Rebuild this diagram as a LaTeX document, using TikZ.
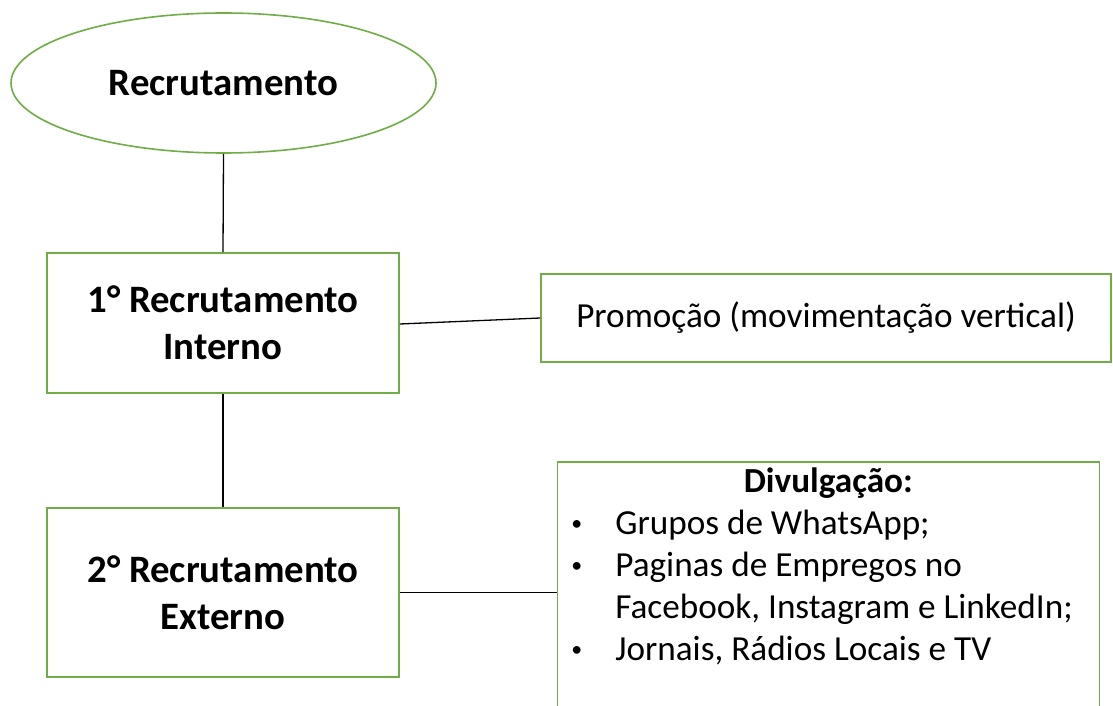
\documentclass[tikz,border=0pt]{standalone}
\usepackage{fontspec}
\setmainfont{Carlito}
\usetikzlibrary{shapes.geometric}
\definecolor{gr}{RGB}{112,173,71}
\newcommand{\bul}{\makebox[42pt][l]{\hspace*{-2pt}\raisebox{0.28ex}{\scalebox{0.62}{•}}}}
\begin{document}
\begin{tikzpicture}[x=1pt,y=-1pt,
  gshape/.style={draw=gr, line width=1.6pt, fill=white, inner sep=0pt},
  conn/.style={draw=black, line width=1.3pt},
  big/.style={font=\fontsize{38.8}{47}\selectfont\bfseries, align=center},
  norm/.style={font=\fontsize{35.2}{42}\selectfont}]
\useasboundingbox (0,0) rectangle (1113,706);
\node[gshape, ellipse, minimum width=425pt, minimum height=140pt, big] (rec) at (223.5,83) {Recrutamento};
\node[gshape, rectangle, minimum width=352pt, minimum height=140pt, big] (int) at (223,323) {1° Recrutamento\\Interno};
\node[gshape, rectangle, minimum width=352pt, minimum height=169pt, big] (ext) at (223,592.5) {2° Recrutamento\\Externo};
\node[gshape, rectangle, minimum width=570pt, minimum height=88pt, norm] (pro) at (826,318) {Promoção (movimentação vertical)};
\node[gshape, rectangle, anchor=north west, norm] (div) at (556.5,461) {%
\begin{minipage}[c][260pt][t]{542pt}\parindent=0pt
\fontsize{35.2}{42}\selectfont
\makebox[542pt][c]{\rule{0pt}{31pt}\bfseries Divulgação:}\\
\hspace*{16pt}\bul Grupos de WhatsApp;\\
\hspace*{16pt}\bul Paginas de Empregos no\\
\hspace*{58pt}Facebook, Instagram e LinkedIn;\\
\hspace*{16pt}\bul Jornais, Rádios Locais e TV
\end{minipage}};
\draw[conn] (rec.south) -- (int.north);
\draw[conn] (int.south) -- (ext.north);
\draw[conn] (int.east |- 0,324) coordinate (a) -- (pro.west);
\draw[conn] (ext.east) -- (ext.east -| div.west);
\end{tikzpicture}
\end{document}
